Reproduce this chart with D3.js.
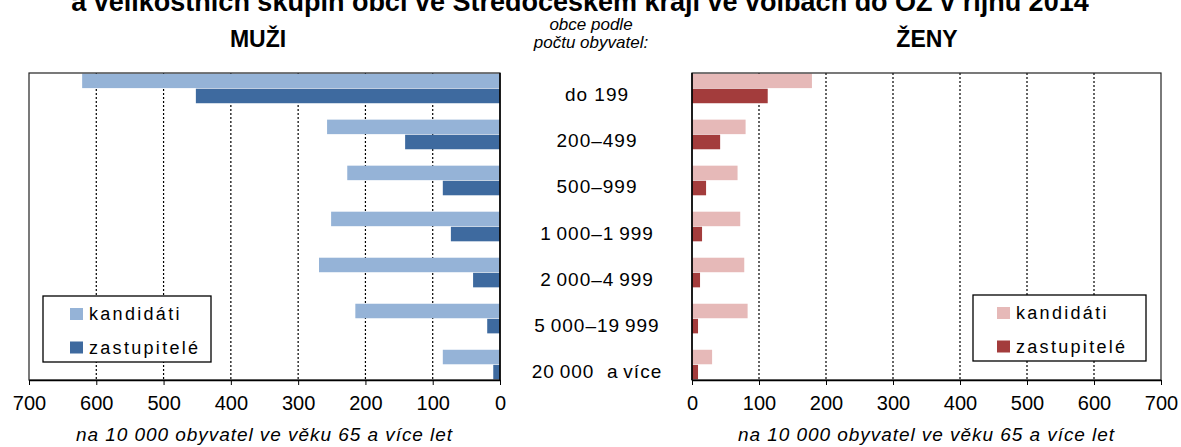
<!DOCTYPE html>
<html>
<head>
<meta charset="utf-8">
<script src="https://cdn.jsdelivr.net/npm/d3@7"></script>
<style>
  body { margin: 0; background: #fff; }
  svg { display: block; font-family: "Liberation Sans", Arial, sans-serif; }
  .grid line { stroke: #000; stroke-width: 1.2; stroke-dasharray: 2,2; }
  .axis text { font-size: 20px; fill: #000; }
  .axis path, .axis line { stroke: #000; }
</style>
</head>
<body>
<script>
// velikostní skupiny obcí
var categories = ["do 199", "200\u2013499", "500\u2013999", "1\u2009000\u20131\u2009999",
                  "2\u2009000\u20134\u2009999", "5\u2009000\u201319\u2009999", "20\u2009000  a\u2009více"];
// na 10 000 obyvatel ve věku 65+
var muziKandidati   = [621, 257, 227, 251, 269, 215, 85];
var muziZastupitele = [452, 141, 85, 73, 40, 19, 10];
var zenyKandidati   = [179, 80, 68, 72, 78, 83, 30];
var zenyZastupitele = [113, 42, 21, 15, 12, 9, 9];
var tickValues = [0, 100, 200, 300, 400, 500, 600, 700];
var seriesNames = ["kandidáti", "zastupitelé"];

var w = 1181, h = 447;
var plotTop = 73, plotBottom = 380;

var svg = d3.select("body").append("svg")
    .attr("width", w)
    .attr("height", h);

// title (cut at top edge like the reference)
svg.append("text")
    .attr("x", 580).attr("y", 11)
    .attr("text-anchor", "middle")
    .style("font-size", "27px").style("font-weight", "bold")
    .text("a velikostních skupin obcí ve Středočeském kraji ve volbách do OZ v říjnu 2014");

var y = d3.scaleBand().domain(categories).range([plotTop, plotBottom]).paddingInner(0.33).paddingOuter(0);
var ySub = d3.scaleBand().domain([0, 1]).range([0, y.bandwidth()]).padding(0.04);

function drawPanel(p) {
    var x = d3.scaleLinear().domain([0, 700]).range(p.range);
    var g = svg.append("g");

    // dotted gridlines
    g.append("g").attr("class", "grid")
        .selectAll("line").data(tickValues.filter(function(d){ return d > 0 && d < 700; }))
        .enter().append("line")
        .attr("x1", function(d){ return x(d); }).attr("x2", function(d){ return x(d); })
        .attr("y1", plotTop).attr("y2", plotBottom);

    var vals = [p.cand, p.zast];
    for (var s = 0; s < 2; s++) {
        g.selectAll("rect.s" + s).data(categories).enter().append("rect")
            .attr("class", "s" + s)
            .attr("x", function(d, i){ return Math.min(x(0), x(vals[s][i])); })
            .attr("width", function(d, i){ return Math.abs(x(vals[s][i]) - x(0)); })
            .attr("y", function(d){ return y(d) + ySub(s); })
            .attr("height", ySub.bandwidth())
            .attr("fill", p.colors[s]);
    }

    // frame
    g.append("rect")
        .attr("x", Math.min(p.range[0], p.range[1])).attr("y", plotTop)
        .attr("width", Math.abs(p.range[1] - p.range[0])).attr("height", plotBottom - plotTop)
        .attr("fill", "none").attr("stroke", "#222").attr("stroke-width", 1.2);
    g.append("line")
        .attr("x1", x(0)).attr("x2", x(0)).attr("y1", plotTop).attr("y2", plotBottom)
        .attr("stroke", "#000").attr("stroke-width", 1.5);

    var axis = g.append("g").attr("class", "axis")
        .attr("transform", "translate(0," + plotBottom + ")")
        .call(d3.axisBottom(x).tickValues(tickValues).tickSizeOuter(0).tickSizeInner(5).tickPadding(11));
    axis.select(".domain").attr("stroke-width", 1.5);

    g.append("text")
        .attr("x", (p.range[0] + p.range[1]) / 2).attr("y", 441)
        .attr("text-anchor", "middle")
        .style("font-size", "19px").style("font-style", "italic").style("letter-spacing", "0.95px")
        .text("na 10\u00a0000 obyvatel  ve věku 65 a více let");

    g.append("text")
        .attr("x", p.headX).attr("y", 47)
        .attr("text-anchor", "middle")
        .style("font-size", "23px").style("font-weight", "bold")
        .text(p.head);

    // legend
    var lg = g.append("g").attr("transform", "translate(" + p.legend[0] + "," + p.legend[1] + ")");
    lg.append("rect").attr("width", p.legend[2]).attr("height", 66)
        .attr("fill", "#fff").attr("stroke", "#000").attr("stroke-width", 1.3);
    seriesNames.forEach(function(n, i) {
        lg.append("rect").attr("x", p.legend[3]).attr("y", 12 + i * 33.5)
            .attr("width", 13).attr("height", 12).attr("fill", p.colors[i]);
        lg.append("text").attr("x", p.legend[3] + 19).attr("y", 24 + i * 33.5)
            .style("font-size", "18px").style("letter-spacing", "2.3px")
            .text(n);
    });
}

drawPanel({
    range: [500, 29], cand: muziKandidati, zast: muziZastupitele,
    colors: ["#95b3d7", "#3e6a9f"], head: "MUŽI", headX: 258,
    legend: [43, 296, 168, 27]
});
drawPanel({
    range: [692, 1161], cand: zenyKandidati, zast: zenyZastupitele,
    colors: ["#e6b9b8", "#a33c3c"], head: "ŽENY", headX: 927,
    legend: [973, 295, 173, 24]
});

// středové popisky
svg.append("text").attr("x", 591).attr("y", 30).attr("text-anchor", "middle")
    .style("font-size", "17px").style("font-style", "italic").text("obce podle");
svg.append("text").attr("x", 591).attr("y", 48).attr("text-anchor", "middle")
    .style("font-size", "17px").style("font-style", "italic").text("počtu obyvatel:");

svg.append("g").selectAll("text").data(categories).enter().append("text")
    .attr("x", 597)
    .attr("y", function(d){ return y(d) + y.bandwidth() / 2 + 13; })
    .attr("text-anchor", "middle")
    .style("font-size", "19px").style("letter-spacing", "1px")
    .style("white-space", "pre")
    .text(function(d){ return d; });
</script>
</body>
</html>
